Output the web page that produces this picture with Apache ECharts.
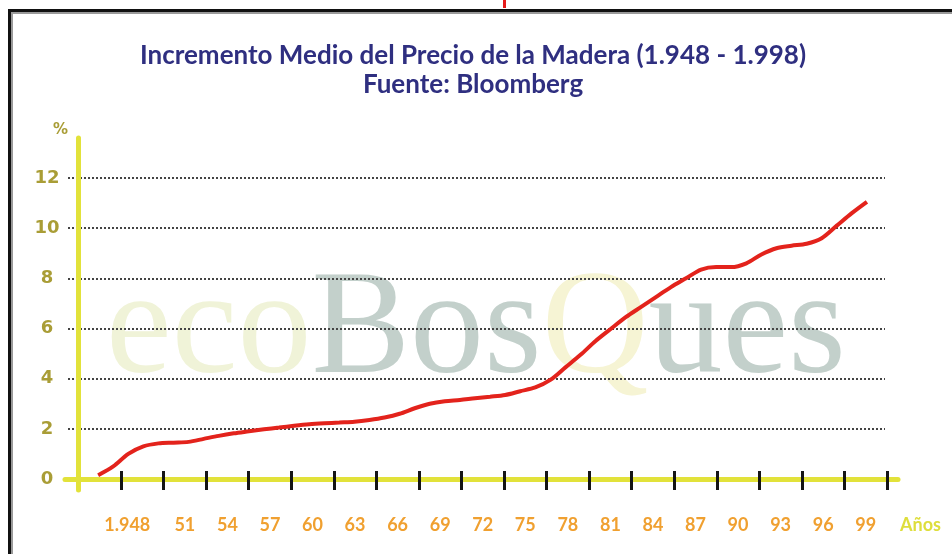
<!DOCTYPE html>
<html>
<head>
<meta charset="utf-8">
<script src="https://cdn.jsdelivr.net/npm/echarts@6/dist/echarts.min.js"></script>
<style>
html,body{margin:0;padding:0;background:#fff;}
#chart{width:952px;height:554px;}
</style>
</head>
<body>
<div id="chart"></div>
<script>
// Data
const years = [1948,1949,1950,1951,1952,1953,1954,1955,1956,1957,1958,1959,1960,1961,1962,1963,1964,1965,1966,1967,1968,1969,1970,1971,1972,1973,1974,1975,1976,1977,1978,1979,1980,1981,1982,1983,1984,1985,1986,1987,1988,1989,1990,1991,1992,1993,1994,1995,1996,1997,1998,1999];
const values = [0.15,0.5,1.0,1.3,1.42,1.45,1.48,1.6,1.72,1.82,1.9,1.98,2.05,2.12,2.18,2.22,2.25,2.28,2.35,2.45,2.6,2.82,3.0,3.1,3.15,3.22,3.28,3.35,3.5,3.65,3.95,4.45,4.95,5.5,5.98,6.45,6.85,7.25,7.65,8.0,8.35,8.45,8.45,8.6,8.95,9.2,9.3,9.38,9.6,10.1,10.6,11.05];
const xLabels = ['1.948','51','54','57','60','63','66','69','72','75','78','81','84','87','90','93','96','99'];

const chart = echarts.init(document.getElementById('chart'), null, {renderer:'canvas'});
const yellow = '#e2e23a';
const option = {
  backgroundColor: '#ffffff',
  animation: false,
  title: {
    text: 'Incremento Medio del Precio de la Madera (1.948 - 1.998)',
    subtext: 'Fuente: Bloomberg',
    left: 468, textAlign: 'center', top: 38, itemGap: 3,
    textStyle: {fontFamily: 'Lato', fontWeight: 'bold', fontSize: 26, color: '#2f2f80'},
    subtextStyle: {fontFamily: 'Lato', fontWeight: 'bold', fontSize: 26, color: '#2f2f80'}
  },
  graphic: [
    {type: 'text', z: -10, left: 106, top: 259, silent: true,
     style: {
       text: '{a|eco}{b|Bos}{c|Q}{b|ues}',
       rich: {
         a: {fontFamily: 'Liberation Serif', fontSize: 148, fill: '#f0f3d8'},
         b: {fontFamily: 'Liberation Serif', fontSize: 148, fill: '#c3d0cb'},
         c: {fontFamily: 'Liberation Serif', fontSize: 148, fill: '#f6f4d4'}
       }
     }},
    {type: 'rect', shape: {x: 8, y: 9, width: 944, height: 3}, style: {fill: '#111'}, silent: true},
    {type: 'rect', shape: {x: 8, y: 9, width: 3, height: 545}, style: {fill: '#111'}, silent: true},
    {type: 'rect', shape: {x: 11, y: 12, width: 941, height: 2}, style: {fill: '#9a9a9a'}, silent: true},
    {type: 'rect', shape: {x: 11, y: 12, width: 2, height: 542}, style: {fill: '#9a9a9a'}, silent: true},
    {type: 'rect', shape: {x: 503, y: 0, width: 3, height: 8}, style: {fill: '#e51b1b'}, silent: true}
  ],
  grid: [
    {left: 68, right: 67, top: 178, bottom: 75},
    {left: 65, right: 54, top: 138, bottom: 64},
    {left: 121, right: 65, top: 400, bottom: 83}
  ],
  xAxis: [
    {type: 'value', gridIndex: 0, min: 1946, max: 2000.2, show: false},
    {type: 'value', gridIndex: 1, min: 0, max: 1,
     axisLine: {show: true, onZero: true, lineStyle: {color: yellow, width: 5}},
     axisTick: {show: false}, axisLabel: {show: false}, splitLine: {show: false}},
    {type: 'category', gridIndex: 2, data: xLabels, boundaryGap: true,
     axisLine: {show: false},
     axisTick: {show: true, interval: 0, length: 19, lineStyle: {color: '#151515', width: 3}},
     axisLabel: {interval: 0, margin: 45, fontFamily: 'Lato', fontWeight: 'bold', fontSize: 18, color: '#f0a030',
       formatter: function (v, i) { return i === 0 ? '{f|' + v + '}' : v; },
       rich: {f: {fontFamily: 'Lato', fontWeight: 'bold', fontSize: 18, color: '#f0a030', padding: [0, 30, 0, 0]}}},
     name: 'Años', nameLocation: 'end', nameGap: 13,
     nameTextStyle: {fontFamily: 'Lato', fontWeight: 'bold', fontSize: 18, color: '#dede3c', verticalAlign: 'top', align: 'left', padding: [45, 0, 0, 0]}}
  ],
  yAxis: [
    {type: 'value', gridIndex: 0, min: 0, max: 12, interval: 2,
     axisLine: {show: false}, axisTick: {show: false},
     axisLabel: {margin: 21, align: 'center', fontFamily: 'DejaVu Sans', fontWeight: 'bold', fontSize: 18, color: '#a99d36'},
     splitLine: {show: true, lineStyle: {color: '#444', type: 'dotted', width: 2}}},
    {type: 'value', gridIndex: 1, min: -0.44, max: 13.6, offset: -13,
     axisLine: {show: true, onZero: false, lineStyle: {color: yellow, width: 5}},
     axisTick: {show: false}, axisLabel: {show: false}, splitLine: {show: false},
     name: '%', nameLocation: 'end', nameGap: 0,
     nameTextStyle: {fontFamily: 'DejaVu Sans', fontWeight: 'bold', fontSize: 15, color: '#a99d36', align: 'right', verticalAlign: 'bottom', padding: [0, 10, 0, 0]}},
    {type: 'value', gridIndex: 2, show: false}
  ],
  series: [
    {type: 'line', xAxisIndex: 0, yAxisIndex: 0, smooth: 0.3, showSymbol: false, z: 5,
     lineStyle: {color: '#e3231c', width: 4},
     data: years.map((y, i) => [y, values[i]])}
  ]
};
chart.setOption(option);
</script>
</body>
</html>
